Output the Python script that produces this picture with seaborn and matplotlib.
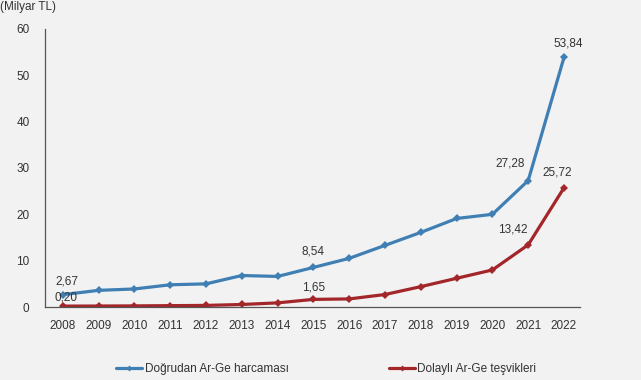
import matplotlib
matplotlib.use('Agg')
import matplotlib.pyplot as plt
import seaborn as sns
import numpy as np
import pandas as pd

years = ['2008', '2009', '2010', '2011', '2012', '2013', '2014', '2015',
         '2016', '2017', '2018', '2019', '2020', '2021', '2022']
dogrudan = [2.67, 3.6, 3.9, 4.8, 5.0, 6.8, 6.6, 8.54,
            10.5, 13.3, 16.1, 19.1, 20.0, 27.28, 53.84]
dolayli = [0.20, 0.22, 0.25, 0.30, 0.35, 0.55, 0.9, 1.65,
           1.75, 2.7, 4.4, 6.2, 8.0, 13.42, 25.72]
series_names = ['Doğrudan Ar-Ge harcaması', 'Dolaylı Ar-Ge teşvikleri']
y_ticks = [0, 10, 20, 30, 40, 50, 60]

# labelled points: (series, year index, text, offset in points)
labels = [
    (0, 0, '2,67', (3, 5)),
    (1, 0, '0,20', (2, 2)),
    (0, 7, '8,54', (0, 7)),
    (1, 7, '1,65', (0, 4)),
    (0, 13, '27,28', (-13, 8)),
    (1, 13, '13,42', (-11, 7)),
    (0, 14, '53,84', (3, 6)),
    (1, 14, '25,72', (-5, 7)),
]

df = pd.DataFrame({
    'idx': list(range(len(years))) * 2,
    'value': dogrudan + dolayli,
    'seri': [series_names[0]] * len(years) + [series_names[1]] * len(years),
})

sns.set_style('white')
plt.rcParams['font.family'] = ['Liberation Sans', 'DejaVu Sans']
bg = '#f2f2f2'
colors = {series_names[0]: '#3f7fb3', series_names[1]: '#a3262a'}

fig = plt.figure(figsize=(6.41, 3.80), dpi=100, facecolor=bg)
ax = fig.add_axes([0.070, 0.192, 0.835, 0.732])
ax.set_facecolor(bg)

sns.lineplot(data=df, x='idx', y='value', hue='seri', palette=colors,
             marker='D', markersize=4, markeredgewidth=0, linewidth=2.3,
             ax=ax, legend=False)

series_vals = [dogrudan, dolayli]
for s, i, txt, off in labels:
    ax.annotate(txt, (i, series_vals[s][i]), xytext=off, textcoords='offset points',
                ha='center', va='bottom', fontsize=8.5, color='#333333')

ax.set_xlim(-0.35, 14.45)
ax.set_ylim(0, 60)
ax.set_yticks(y_ticks)
ax.set_yticklabels([str(t) for t in y_ticks], fontsize=8.5, color='#333333')
ax.set_xticks(np.arange(len(years)) - 0.5, minor=False)
ax.set_xticklabels([])
ax.set_xticks(np.arange(len(years)), minor=True)
ax.set_xticklabels(years, minor=True, fontsize=8.5, color='#333333')
ax.tick_params(axis='x', which='major', length=4, color='#555555', direction='out')
ax.tick_params(axis='x', which='minor', length=0, pad=9)
ax.tick_params(axis='y', length=3, color='#555555', pad=8)
ax.set_xlabel('')
ax.set_ylabel('')
for side in ['top', 'right']:
    ax.spines[side].set_visible(False)
for side in ['left', 'bottom']:
    ax.spines[side].set_color('#555555')
    ax.spines[side].set_linewidth(0.9)

fig.text(0.0, 0.982, '(Milyar TL)', fontsize=8.5, color='#333333', ha='left', va='center')

handles = [plt.Line2D([], [], color=colors[n], marker='D', markersize=3,
                      markeredgewidth=0, linewidth=2.3) for n in series_names]
fig.legend(handles, series_names, loc='center left', bbox_to_anchor=(0.165, 0.028),
           ncol=2, frameon=False, fontsize=8.5, handlelength=2.2, handletextpad=0.2,
           columnspacing=8.5, labelcolor='#333333')

fig.savefig('out.png', dpi=100, facecolor=bg)
